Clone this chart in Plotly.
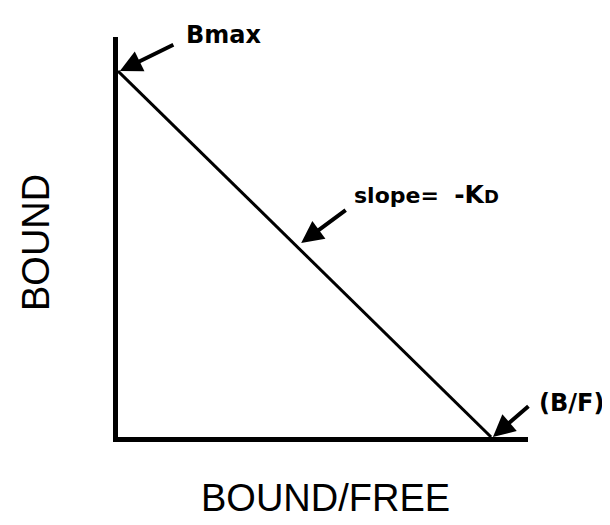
import plotly.graph_objects as go

# Scatchard plot: BOUND vs BOUND/FREE
bmax = 10.0            # y-intercept (Bmax)
bf_intercept = 10.0    # x-intercept (B/F)
line_x = [0.0, bf_intercept]
line_y = [bmax, 0.0]

x_title = "BOUND/FREE"
y_title = "BOUND"
label_bmax = "Bmax"
label_slope = ("slope=\u00a0\u00a0<span style='font-size:25px'>-K</span>"
               "<span style='font-size:18px'>D</span>")
label_bf = "(B/F)"

fig = go.Figure()
fig.add_trace(go.Scatter(x=line_x, y=line_y, mode="lines",
                         line=dict(color="black", width=3),
                         hoverinfo="skip", showlegend=False))

arrow_kw = dict(text="", showarrow=True, arrowhead=2, arrowsize=1.1,
                arrowwidth=4, arrowcolor="black", xref="x", yref="y")

# slope arrow tip location along line
sx = 0.491 * bf_intercept
sy = bmax * (1 - sx / bf_intercept) + 0.21

annotations = [
    dict(x=line_x[0] + 0.05, y=line_y[0], ax=55, ay=-27, **arrow_kw),
    dict(x=sx, y=sy, ax=46, ay=-34, **arrow_kw),
    dict(x=line_x[1] + 0.05, y=line_y[1], ax=37, ay=-32, **arrow_kw),
    dict(text=label_bmax, xref="paper", yref="paper", x=0.16, y=1.006,
         xanchor="left", yanchor="middle", showarrow=False,
         font=dict(family="DejaVu Sans", size=24, color="black", weight="bold")),
    dict(text=label_slope, xref="paper", yref="paper", x=0.571, y=0.607,
         xanchor="left", yanchor="middle", showarrow=False,
         font=dict(family="DejaVu Sans", size=22, color="black", weight="bold")),
    dict(text=label_bf, xref="paper", yref="paper", x=1.022, y=0.085,
         xanchor="left", yanchor="middle", showarrow=False,
         font=dict(family="DejaVu Sans", size=24, color="black", weight="bold")),
    dict(text=y_title, xref="paper", yref="paper", x=-0.2, y=0.485,
         textangle=-90, xanchor="center", yanchor="middle", showarrow=False,
         font=dict(family="Liberation Sans", size=38, color="black")),
    dict(text=x_title, xref="paper", yref="paper", x=0.507, y=-0.152,
         xanchor="center", yanchor="middle", showarrow=False,
         font=dict(family="Liberation Sans", size=38, color="black")),
]

fig.update_layout(
    width=610, height=525,
    margin=dict(l=110, r=90, t=29, b=96),
    paper_bgcolor="white", plot_bgcolor="white",
    showlegend=False,
    annotations=annotations,
    xaxis=dict(range=[0, 10.99], showline=True, linewidth=5, linecolor="black",
               showgrid=False, zeroline=False, showticklabels=False, ticks=""),
    yaxis=dict(range=[0, 10.93], showline=True, linewidth=5, linecolor="black",
               showgrid=False, zeroline=False, showticklabels=False, ticks=""),
)

fig.write_html("out.html")
